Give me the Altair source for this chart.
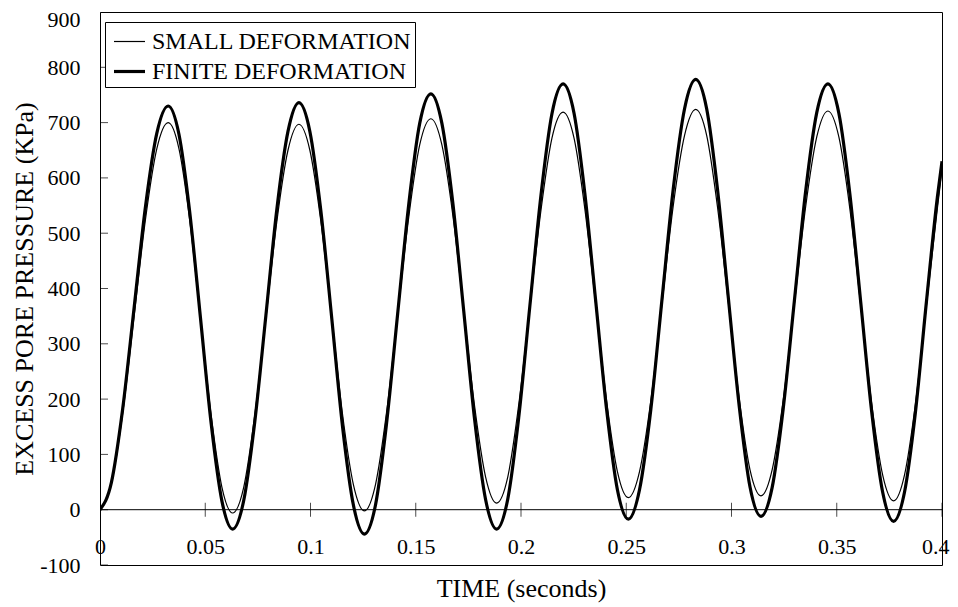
import altair as alt
import pandas as pd

# ---- data ----
TIME = [0, 0.0054, 0.0108, 0.0162, 0.0216, 0.0270, 0.0324,
        0.0375, 0.0426, 0.0477, 0.0528, 0.0579, 0.0630,
        0.0683, 0.0735, 0.0788, 0.0840, 0.0893, 0.0945,
        0.0997, 0.1049, 0.1101, 0.1152, 0.1204, 0.1256,
        0.1309, 0.1361, 0.1414, 0.1467, 0.1519, 0.1572,
        0.1624, 0.1676, 0.1728, 0.1780, 0.1832, 0.1884,
        0.1937, 0.1989, 0.2042, 0.2095, 0.2147, 0.2200,
        0.2252, 0.2303, 0.2355, 0.2407, 0.2458, 0.2510,
        0.2563, 0.2617, 0.2670, 0.2723, 0.2777, 0.2830,
        0.2882, 0.2933, 0.2985, 0.3037, 0.3088, 0.3140,
        0.3193, 0.3246, 0.3299, 0.3352, 0.3405, 0.3458,
        0.3510, 0.3562, 0.3614, 0.3666, 0.3718, 0.3770,
        0.3822, 0.3874, 0.3926, 0.3978, 0.4000]

SMALL = [0, 47, 175, 350, 525, 653, 700,
         653, 524, 347, 171, 41, -6,
         41, 170, 346, 521, 650, 697,
         650, 522, 348, 173, 45, -2,
         46, 175, 353, 530, 660, 707,
         660, 533, 360, 186, 59, 12,
         59, 189, 366, 542, 672, 719,
         672, 545, 371, 196, 69, 22,
         69, 198, 373, 549, 677, 724,
         677, 549, 375, 200, 72, 25,
         72, 199, 373, 547, 674, 721,
         674, 545, 369, 192, 63, 16,
         63, 192, 369, 545, 615]

FINITE = [0, 49, 183, 365, 548, 681, 730,
          679, 539, 348, 156, 16, -35,
          17, 158, 351, 543, 684, 736,
          684, 541, 346, 151, 8, -44,
          9, 155, 354, 553, 699, 752,
          699, 555, 359, 162, 18, -35,
          19, 166, 368, 569, 716, 770,
          717, 573, 377, 180, 36, -17,
          36, 182, 381, 579, 725, 778,
          725, 581, 383, 186, 41, -12,
          40, 184, 379, 575, 718, 770,
          717, 572, 375, 177, 32, -21,
          32, 177, 376, 565, 630]

SERIES = ["SMALL DEFORMATION", "FINITE DEFORMATION"]
X_TICKS = [0, 0.05, 0.1, 0.15, 0.2, 0.25, 0.3, 0.35, 0.4]
Y_TICKS = [-100, 0, 100, 200, 300, 400, 500, 600, 700, 800, 900]

FONT = "Liberation Serif"

df = pd.concat([
    pd.DataFrame({"TIME": TIME, "P": SMALL, "series": SERIES[0]}),
    pd.DataFrame({"TIME": TIME, "P": FINITE, "series": SERIES[1]}),
], ignore_index=True)

xscale = alt.Scale(domain=[0, 0.4], nice=False, zero=False)
yscale = alt.Scale(domain=[-100, 900], nice=False, zero=False)

x_axis = alt.Axis(values=X_TICKS, labelExpr="'' + datum.value", title="TIME (seconds)",
                  domain=False, ticks=False, grid=False,
                  labelPadding=-19, labelBaseline="middle",
                  labelAlign={"condition": {"test": "datum.value >= 0.4", "value": "right"},
                              "value": "center"},
                  labelOffset={"condition": {"test": "datum.value >= 0.4", "value": 7},
                               "value": 0},
                  labelFontSize=22, labelFont=FONT, labelColor="black",
                  labelFlush=False, labelOverlap=False,
                  titleFont=FONT, titleFontSize=26, titleFontWeight="normal",
                  titleColor="black", titleX=421, titleY=31,
                  titleAlign="center", titleBaseline="alphabetic")
y_axis = alt.Axis(values=Y_TICKS, labelExpr="'' + datum.value",
                  title="EXCESS PORE PRESSURE (KPa)",
                  domain=False, ticks=False, grid=False,
                  labelPadding=20, labelFontSize=22, labelFont=FONT,
                  labelOffset={"condition": {"test": "datum.value >= 900", "value": 7},
                               "value": 0},
                  labelColor="black", labelOverlap=False,
                  titleFont=FONT, titleFontSize=26, titleFontWeight="normal",
                  titleColor="black", titleX=-76, titleY=276.5,
                  titleAlign="center", titleBaseline="middle")

lines = alt.Chart(df).mark_line(color="black", interpolate="monotone", clip=True).encode(
    x=alt.X("TIME:Q", scale=xscale, axis=x_axis),
    y=alt.Y("P:Q", scale=yscale, axis=y_axis),
    strokeWidth=alt.StrokeWidth(
        "series:N",
        scale=alt.Scale(domain=SERIES, range=[1.2, 3.2]),
        legend=alt.Legend(title=None, orient="none", legendX=5, legendY=10,
                          symbolType="stroke", symbolSize=961,
                          symbolStrokeColor="black", labelFont=FONT,
                          labelFontSize=24, labelColor="black", labelOffset=5,
                          labelLimit=500, padding=3, symbolOffset=4, rowPadding=0,
                          strokeColor="black", fillColor="white", cornerRadius=0)),
)

zero_df = pd.DataFrame({"P": [0]})
zero_rule = alt.Chart(zero_df).mark_rule(color="black", strokeWidth=1).encode(
    y=alt.Y("P:Q", scale=yscale, axis=y_axis)
)

x_ticks = alt.Chart(pd.DataFrame({"TIME": X_TICKS, "P": [0] * len(X_TICKS)})).mark_tick(
    orient="vertical", size=14, thickness=1, color="black", clip=True
).encode(
    x=alt.X("TIME:Q", scale=xscale, axis=x_axis),
    y=alt.Y("P:Q", scale=yscale, axis=y_axis),
)

y_ticks = alt.Chart(pd.DataFrame({"P": Y_TICKS, "TIME": [0] * len(Y_TICKS)})).mark_tick(
    orient="horizontal", size=16, thickness=1, color="black", clip=True
).encode(
    y=alt.Y("P:Q", scale=yscale, axis=y_axis),
    x=alt.X("TIME:Q", scale=xscale, axis=x_axis),
)

chart = alt.layer(zero_rule, x_ticks, y_ticks, lines).properties(
    width=842, height=553,
    autosize=alt.AutoSizeParams(type="none"),
    padding={"left": 92, "top": 4, "right": 8, "bottom": 40},
).configure(
    font=FONT, background="white"
).configure_view(
    stroke="black", strokeWidth=1
).configure_axis(
    labelFont=FONT, titleFont=FONT
).configure_legend(
    labelFont=FONT
)

chart.save("out.html", embed_options={"renderer": "svg", "actions": False})
